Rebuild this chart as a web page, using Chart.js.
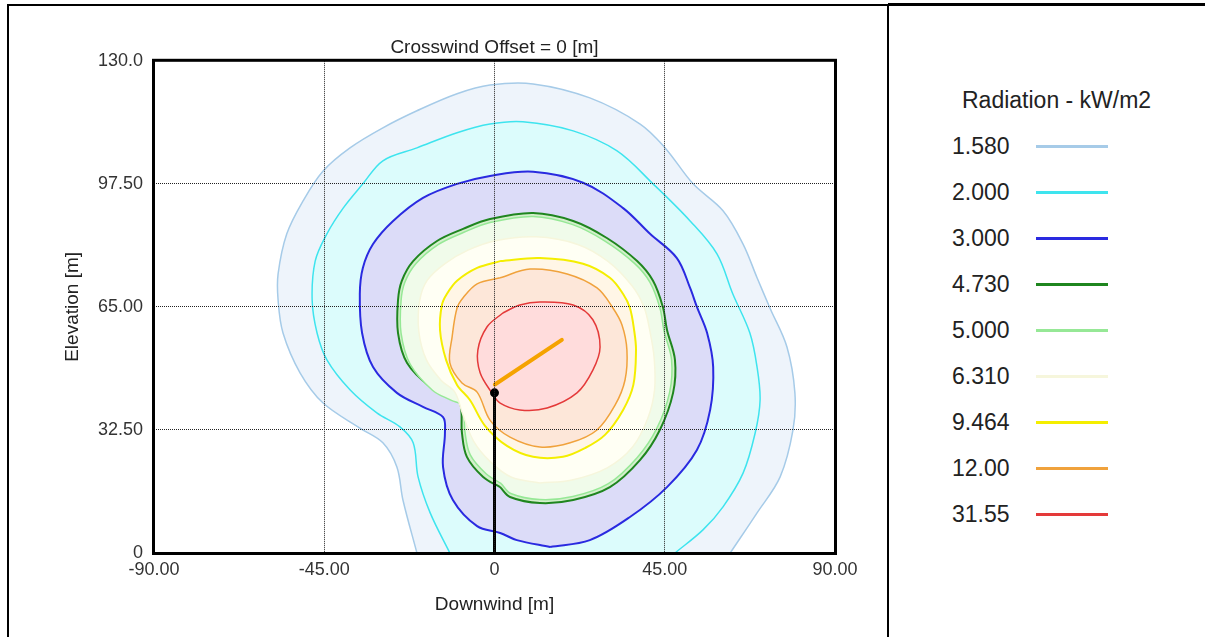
<!DOCTYPE html>
<html>
<head>
<meta charset="utf-8">
<title>Crosswind Offset = 0 [m]</title>
<script src="https://cdn.jsdelivr.net/npm/chart.js@4.4.1/dist/chart.umd.min.js"></script>
<style>
  body { margin: 0; background: #fff; font-family: "Liberation Sans", Arial, sans-serif; }
  #page { position: relative; width: 1205px; height: 637px; overflow: hidden; background: #fff; }
  #plot { position: absolute; left: 0; top: 0; }
  .rule { position: absolute; background: #000; }
  #legend { position: absolute; left: 889px; top: 0; width: 316px; height: 637px; color: #222; }
  #legend .title { position: absolute; left: 73px; top: 87px; font-size: 23px; white-space: nowrap; }
  #legend .label { position: absolute; left: 63px; font-size: 23px; line-height: 26px; }
  #legend .swatch { position: absolute; left: 147px; width: 72px; height: 3px; }
</style>
</head>
<body>
<div id="page">
  <canvas id="plot" width="888" height="637"></canvas>
  <div id="legend"></div>
  <div class="rule" style="left:7px;top:4px;width:881px;height:2px"></div>
  <div class="rule" style="left:888px;top:3px;width:317px;height:3px"></div>
  <div class="rule" style="left:7px;top:4px;width:2px;height:633px"></div>
  <div class="rule" style="left:887px;top:4px;width:2px;height:633px"></div>
</div>
<script>
const CHART_TITLE = "Crosswind Offset = 0 [m]";
const X_TITLE = "Downwind [m]";
const Y_TITLE = "Elevation [m]";
const LEGEND_TITLE = "Radiation - kW/m2";

const X_TICK_VALUES = [-90, -45, 0, 45, 90];
const X_TICK_LABELS = ["-90.00", "-45.00", "0", "45.00", "90.00"];
const Y_TICK_VALUES = [0, 32.5, 65, 97.5, 130];
const Y_TICK_LABELS = ["0", "32.50", "65.00", "97.50", "130.0"];

// contour levels, outermost first
const LEVELS = ["1.580", "2.000", "3.000", "4.730", "5.000", "6.310", "9.464", "12.00", "31.55"];

// contour outlines as [downwind, elevation] pairs
const c1580 = [[-20.5,0],[-24.2,14.0],[-25.8,22.7],[-29.5,29.1],[-35.6,33.0],[-45.3,39.6],[-51.4,47.6],[-55.9,58.1],[-57.2,66.8],[-57.2,73.7],[-54.9,84.3],[-50.6,93.0],[-45.3,100.9],[-38.2,107.0],[-29.5,112.3],[-20.5,116.8],[-9.9,121.3],[-1.2,123.6],[10.2,123.9],[25.2,120.2],[38.5,113.3],[45.1,107.0],[52.5,97.5],[60.4,90.4],[65.7,81.6],[69.4,72.7],[72.8,64.7],[77.3,54.4],[79.4,42.3],[78.9,32.5],[75.5,20.1],[69.4,10.6],[62.3,0]];
const c2000 = [[-11.8,0],[-17.0,10.6],[-20.2,20.1],[-21.5,29.1],[-25.0,33.3],[-31.1,37.0],[-38.2,43.1],[-44.3,51.0],[-46.9,58.1],[-48.2,66.8],[-47.4,77.1],[-44.3,84.3],[-40.0,91.1],[-34.8,97.5],[-29.5,103.6],[-20.5,107.0],[-9.9,111.0],[-1.2,113.3],[7.5,113.9],[20.8,111.5],[32.4,106.2],[41.9,97.5],[51.7,87.7],[58.8,79.0],[63.0,68.4],[67.5,58.1],[69.4,49.1],[70.2,40.4],[68.9,31.7],[65.7,21.1],[60.4,12.2],[55.1,6.1],[47.7,0]];
const c3000 = [[14.7,1.6],[5.9,3.4],[1.5,5.3],[-4.6,7.1],[-11.0,14.0],[-13.6,22.7],[-13.1,31.7],[-13.6,35.9],[-18.9,38.6],[-25.8,42.3],[-32.1,49.1],[-35.0,58.1],[-35.6,68.4],[-34.8,75.3],[-32.1,81.6],[-26.8,87.7],[-18.9,93.8],[-9.9,97.5],[-1.2,99.6],[10.2,100.7],[23.4,97.8],[34.0,91.1],[41.1,84.3],[48.2,77.9],[51.7,70.0],[53.5,65.0],[56.2,58.1],[57.8,49.1],[57.0,37.8],[53.5,27.2],[45.6,17.4],[35.8,9.5],[25.2,3.4],[14.7,1.6]];
const c4730 = [[1.5,17.4],[-3.0,20.1],[-7.3,25.4],[-8.6,31.7],[-9.1,39.6],[-11.8,41.2],[-17.0,43.9],[-23.1,50.2],[-25.5,58.1],[-25.5,66.8],[-24.5,71.9],[-21.5,77.1],[-15.2,82.4],[-8.3,85.6],[-1.2,88.2],[10.2,89.8],[20.8,87.7],[29.7,83.2],[37.7,77.1],[41.9,71.9],[44.5,65.0],[45.6,58.9],[47.7,51.0],[47.2,42.3],[43.7,32.5],[38.5,24.6],[30.5,17.4],[20.8,14.0],[12.0,13.2],[4.1,14.8],[1.5,17.4]];
const c5000 = [[1.8,18.3],[-2.3,21.0],[-6.4,25.9],[-7.8,31.9],[-8.4,38.8],[-11.4,40.3],[-16.4,43.0],[-22.3,49.9],[-24.7,58.1],[-24.7,66.6],[-23.7,71.5],[-20.8,76.4],[-14.8,81.5],[-8.1,84.7],[-1.2,87.3],[10.2,88.9],[20.5,86.8],[29.2,82.4],[37.0,76.5],[41.1,71.5],[43.7,64.8],[44.8,58.7],[46.8,51.0],[46.3,42.5],[42.9,32.9],[37.8,25.3],[30.1,18.3],[20.7,14.9],[12.0,14.1],[4.3,15.7],[1.8,18.3]];
const c6310 = [[12.0,18.5],[20.5,19.3],[29.8,22.5],[36.5,28.0],[40.5,35.5],[42.3,43.0],[42.2,51.5],[41.0,59.0],[39.5,65.0],[36.4,70.5],[30.0,77.0],[22.0,81.5],[11.0,83.5],[0.2,82.5],[-7.0,80.0],[-13.0,76.5],[-17.8,72.0],[-19.8,66.5],[-20.0,58.5],[-18.0,51.0],[-14.0,45.5],[-10.5,42.5],[-8.5,37.0],[-5.5,29.5],[-1.0,24.0],[4.5,20.0],[12.0,18.5]];
const c9464 = [[1.5,77.1],[12.0,77.9],[23.4,76.4],[30.5,72.7],[34.0,68.4],[35.8,64.7],[36.9,58.9],[37.4,53.6],[36.7,44.4],[34.0,37.8],[29.2,31.2],[23.9,27.7],[18.1,25.4],[10.2,25.4],[3.3,28.3],[-2.5,33.6],[-6.5,40.4],[-9.9,44.4],[-12.8,51.0],[-14.4,58.9],[-13.9,65.5],[-12.6,68.4],[-9.9,71.9],[-4.6,75.3],[1.5,77.1]];
const c12000 = [[1.5,72.7],[9.4,75.0],[19.2,73.7],[27.1,70.0],[31.3,64.7],[33.7,60.2],[35.0,53.6],[34.5,45.7],[31.9,39.1],[27.1,32.5],[20.0,29.1],[12.0,28.0],[4.1,30.6],[-1.2,35.1],[-4.6,42.5],[-8.6,44.9],[-11.8,50.2],[-11.2,57.1],[-9.9,64.7],[-8.3,67.4],[-4.6,71.1],[1.5,72.7]];
const c31550 = [[2.2,63.4],[6.7,65.5],[12.0,66.3],[20.8,65.5],[26.0,61.6],[27.9,54.4],[26.0,48.3],[21.8,42.3],[13.9,38.3],[6.7,37.8],[1.5,39.6],[-0.7,42.3],[-3.8,47.6],[-4.4,53.6],[-2.0,59.7],[2.2,63.4]];
const CONTOURS = [c1580, c2000, c3000, c4730, c5000, c6310, c9464, c12000, c31550];

// release point: vertical stack and the orange jet
const STACK = [[0, 0], [0, 42.3]];
const JET = [[0.1, 44.5], [17.8, 56.3]];

const LINE_COLORS = ["#a6cbe8", "#3ee4ee", "#2a2ae0", "#1f861f", "#96e896", "#f6f6dc", "#f4ee00", "#f0a23c", "#e43a3a"];
const FILL_COLORS = ["#eef4fb", "#dcfcfc", "#dcdcf8", "#d4f0cc", "#f0fbea", "#fffff4", "#fff6e6", "#fde7d9", "#ffdcdc"];
const LINE_WIDTHS = [1.5, 1.5, 2, 2, 1.5, 1.5, 2, 1.5, 1.5];


const toPoints = (pairs) => pairs.map((p) => ({x: p[0], y: p[1]}));

const frame = {
    id: "frame",
    afterDraw(chart) {
        const a = chart.chartArea;
        const ctx = chart.ctx;
        ctx.save();
        ctx.strokeStyle = "#000";
        ctx.lineWidth = 3;
        ctx.strokeRect(a.left - 0.5, a.top - 0.5, a.right - a.left + 1, a.bottom - a.top + 1);
        ctx.restore();
    }
};

function buildDatasets() {
    const datasets = CONTOURS.map((pairs, i) => {
        return {
            label: LEVELS[i],
            data: toPoints(pairs),
            borderColor: LINE_COLORS[i],
            backgroundColor: FILL_COLORS[i],
            borderWidth: LINE_WIDTHS[i],
            fill: "shape",
            tension: 0.35,
            pointRadius: 0,
            order: 20 - i
        };
    });
    datasets.push({
        label: "jet",
        data: toPoints(JET),
        borderColor: "#f5a300",
        borderWidth: 4,
        borderCapStyle: "round",
        fill: false,
        pointRadius: 0,
        order: 1
    });
    datasets.push({
        label: "stack",
        data: toPoints(STACK),
        borderColor: "#000",
        borderWidth: 3,
        fill: false,
        pointRadius: [0, 4.5],
        pointBackgroundColor: "#000",
        pointBorderWidth: 0,
        order: 0
    });
    return datasets;
}

const tickFont = {family: "'Liberation Sans', Arial, sans-serif", size: 18};
const titleFont = {family: "'Liberation Sans', Arial, sans-serif", size: 19};
const gridStyle = {color: "#222", lineWidth: 1, drawTicks: false, z: 1};
const gridBorder = {display: false, dash: [1, 1]};

new Chart(document.getElementById("plot"), {
    type: "line",
    data: {datasets: buildDatasets()},
    options: {
        responsive: false,
        animation: false,
        layout: {padding: {left: 0, top: 0, right: 53, bottom: 0}},
        plugins: {
            legend: {display: false},
            tooltip: {enabled: false},
            title: {
                display: true,
                text: CHART_TITLE,
                fullSize: false,
                color: "#222",
                font: {family: "'Liberation Sans', Arial, sans-serif", size: 19, weight: "normal"},
                padding: {top: 36, bottom: 2}
            }
        },
        scales: {
            x: {
                type: "linear",
                min: -90,
                max: 90,
                afterBuildTicks: (scale) => { scale.ticks = X_TICK_VALUES.map((v) => ({value: v})); },
                afterFit: (scale) => { scale.height = 84; },
                ticks: {
                    color: "#333",
                    font: tickFont,
                    padding: 6,
                    maxRotation: 0,
                    callback: (value, index) => X_TICK_LABELS[index]
                },
                grid: gridStyle,
                border: gridBorder,
                title: {display: true, text: X_TITLE, color: "#222", font: titleFont, padding: {top: 0, bottom: 21}}
            },
            y: {
                type: "linear",
                min: 0,
                max: 130,
                afterBuildTicks: (scale) => { scale.ticks = Y_TICK_VALUES.map((v) => ({value: v})); },
                afterFit: (scale) => { scale.width = 154; },
                ticks: {
                    color: "#333",
                    font: tickFont,
                    padding: 11,
                    callback: (value, index) => Y_TICK_LABELS[index]
                },
                grid: gridStyle,
                border: gridBorder,
                title: {display: true, text: Y_TITLE, color: "#222", font: titleFont, padding: {top: 61, bottom: 0}}
            }
        }
    },
    plugins: [frame]
});

function renderLegend() {
    const box = document.getElementById("legend");
    const title = document.createElement("div");
    title.className = "title";
    title.textContent = LEGEND_TITLE;
    box.appendChild(title);
    LEVELS.forEach((level, i) => {
        const rowY = 146 + 46 * i;
        const label = document.createElement("div");
        label.className = "label";
        label.style.top = (rowY - 13) + "px";
        label.textContent = level;
        box.appendChild(label);
        const swatch = document.createElement("div");
        swatch.className = "swatch";
        swatch.style.top = (rowY - 1) + "px";
        swatch.style.background = LINE_COLORS[i];
        box.appendChild(swatch);
    });
}

renderLegend();
</script>
</body>
</html>
